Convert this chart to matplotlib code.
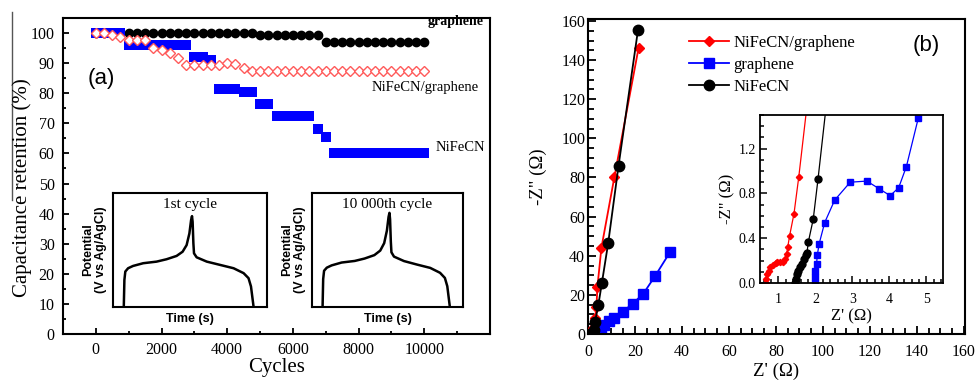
import numpy as np
import matplotlib.pyplot as plt
from matplotlib.ticker import MultipleLocator, FixedLocator
from matplotlib.lines import Line2D

plt.rcParams['font.family'] = ['Liberation Serif', 'DejaVu Serif']

# (a) cycling stability
cycles = np.arange(0, 10001, 250)
graphene_ret = [100] * 20 + [99.3] * 8 + [97] * 13
nifecn_ret = ([100] * 4 + [96] * 8 + [92, 92, 91] + [81.5] * 3 + [80.5] * 2
              + [76.5] * 2 + [72.5] * 5 + [68, 65.5] + [60] * 12)
composite_ret = ([100, 100, 99.5, 98.8, 97.6, 97.6, 97.6, 95, 94.5, 93.4, 91.7,
                  89.5, 89.5, 89.5, 89.5, 89.5, 90, 89.8, 88.3] + [87.5] * 22)

# (a) inset charge/discharge curves (normalised time, potential)
gcd_t = [0.070, 0.074, 0.080, 0.098, 0.130, 0.196, 0.283, 0.348, 0.413, 0.452, 0.478,
         0.496, 0.507, 0.513, 0.517, 0.522, 0.526, 0.543, 0.609, 0.696, 0.783, 0.848,
         0.880, 0.896, 0.913]
gcd_first = [0.0, 0.238, 0.311, 0.340, 0.360, 0.384, 0.398, 0.419, 0.448, 0.485, 0.543,
             0.645, 0.762, 0.797, 0.747, 0.558, 0.471, 0.436, 0.398, 0.369, 0.340, 0.297,
             0.253, 0.180, 0.0]
gcd_last = [0.0, 0.245, 0.318, 0.345, 0.365, 0.390, 0.404, 0.425, 0.455, 0.495, 0.560,
            0.670, 0.790, 0.826, 0.770, 0.575, 0.480, 0.442, 0.403, 0.372, 0.343, 0.300,
            0.255, 0.182, 0.0]

# (b) Nyquist plots
comp_x = [0.65, 0.67, 0.70, 0.74, 0.78, 0.85, 0.92, 0.97, 1.05, 1.12, 1.18, 1.22, 1.25,
          1.30, 1.42, 1.55, 2.3, 3.0, 3.6, 4.0, 5.7, 11.2, 21.5]
comp_y = [0.0, 0.04, 0.08, 0.11, 0.14, 0.16, 0.18, 0.19, 0.19, 0.19, 0.21, 0.26, 0.32,
          0.42, 0.62, 0.95, 3.1, 8, 14, 24, 44, 80, 146]
graph_x = [1.98, 1.98, 2.0, 2.03, 2.05, 2.1, 2.25, 2.52, 2.94, 3.39, 3.73, 4.02, 4.25,
           4.46, 4.78, 5.5, 7.0, 8.8, 11.0, 14.8, 19.0, 23.5, 28.5, 35.0]
graph_y = [0.0, 0.05, 0.11, 0.17, 0.25, 0.35, 0.54, 0.74, 0.90, 0.91, 0.84, 0.78, 0.85,
           1.04, 1.47, 2.0, 4.5, 6.5, 8.3, 11.4, 15.5, 20.5, 29.5, 42]
nife_x = [1.45, 1.47, 1.49, 1.54, 1.58, 1.63, 1.69, 1.74, 1.77, 1.81, 1.94, 2.07, 2.5,
          3.0, 4.4, 5.9, 8.6, 13.0, 21.3]
nife_y = [0.0, 0.04, 0.08, 0.11, 0.14, 0.17, 0.21, 0.25, 0.27, 0.37, 0.57, 0.93, 2.2,
          6.3, 14.8, 26, 46.5, 86, 155.5]

W, H = 980, 387
fig = plt.figure(figsize=(W / 100, H / 100), dpi=100)


def px_rect(x0, y0, x1, y1):
    return [x0 / W, 1 - y1 / H, (x1 - x0) / W, (y1 - y0) / H]


# ---- panel (a)
ax1 = fig.add_axes(px_rect(63, 18, 490, 334))
ax1.plot(cycles, graphene_ret, 'o', color='black', ms=6, zorder=2)
ax1.plot(cycles, nifecn_ret, 's', color='blue', ms=6.5, mew=0, zorder=3)
ax1.plot(cycles, composite_ret, 'D', mfc='white', mec='#ff5a5a', mew=1, ms=5.5, zorder=4)
ax1.set_xlim(-1000, 12000)
ax1.set_ylim(0, 105)
ax1.xaxis.set_major_locator(FixedLocator(range(0, 10001, 2000)))
ax1.xaxis.set_minor_locator(FixedLocator(range(1000, 12000, 2000)))
ax1.yaxis.set_major_locator(FixedLocator(range(0, 101, 10)))
ax1.yaxis.set_minor_locator(FixedLocator(range(5, 105, 10)))
ax1.tick_params(direction='in', length=4, width=1.3, labelsize=11.5, pad=6)
ax1.tick_params(which='minor', direction='in', length=2.5, width=1.3)
for s in ax1.spines.values():
    s.set_linewidth(1.5)
ax1.set_xlabel('Cycles', fontsize=15)
ax1.xaxis.set_label_coords(0.5, -0.075)
fig.text(22 / W, 1 - 188 / H, 'Capacitance retention (%)', rotation=90,
         fontsize=15, ha='center', va='center')
ax1.text(10100, 104, 'graphene', fontsize=10, fontweight='bold', va='center')
ax1.text(8400, 82, 'NiFeCN/graphene', fontsize=10.5, va='center')
ax1.text(10350, 62, 'NiFeCN', fontsize=10.5, va='center')
ax1.text(-250, 85, '(a)', family='Liberation Sans', fontsize=16, va='center')

# insets of (a)
for rect, title, volts in [((113, 193, 267, 307), '1st cycle', gcd_first),
                           ((312, 193, 463, 307), '10 000th cycle', gcd_last)]:
    axi = fig.add_axes(px_rect(*rect))
    axi.plot(gcd_t, volts, color='black', lw=1.8)
    axi.set_xlim(0, 1)
    axi.set_ylim(0, 1)
    axi.set_xticks([])
    axi.set_yticks([])
    for s in axi.spines.values():
        s.set_linewidth(1.5)
    axi.text(0.5, 0.9, title, transform=axi.transAxes, ha='center', va='center', fontsize=11)
    axi.set_xlabel('Time (s)', family='Liberation Sans', fontweight='bold', fontsize=9, labelpad=4)
    axi.set_ylabel('Potential\n(V vs Ag/AgCl)', family='Liberation Sans', fontweight='bold',
                   fontsize=9, labelpad=4, linespacing=1.1)

# ---- panel (b)
ax2 = fig.add_axes(px_rect(588, 19, 965, 334))
ax2.plot(comp_x, comp_y, '-D', color='red', ms=5, lw=1.3, label='NiFeCN/graphene', zorder=3)
ax2.plot(graph_x, graph_y, '-s', color='blue', ms=6.5, lw=1.3, label='graphene', zorder=2)
ax2.plot(nife_x, nife_y, '-o', color='black', ms=7.5, lw=1.3, label='NiFeCN', zorder=4)
ax2.set_xlim(0, 160.5)
ax2.set_ylim(0, 161)
ax2.xaxis.set_major_locator(MultipleLocator(20))
ax2.xaxis.set_minor_locator(MultipleLocator(5))
ax2.yaxis.set_major_locator(MultipleLocator(20))
ax2.yaxis.set_minor_locator(MultipleLocator(5))
ax2.tick_params(direction='in', length=6, width=1.3, labelsize=11.5)
ax2.tick_params(axis='y', pad=2)
ax2.tick_params(axis='x', pad=7)
ax2.tick_params(which='minor', direction='in', length=4, width=1.3)
for s in ax2.spines.values():
    s.set_linewidth(1.5)
ax2.set_xlabel("Z' (Ω)", fontsize=13.5, labelpad=2)
ax2.set_ylabel('-Z" (Ω)', fontsize=13.5, labelpad=10)
ax2.legend(loc='upper left', bbox_to_anchor=(0.245, 0.975), frameon=False, fontsize=12,
           borderpad=0, handlelength=2.4, handletextpad=0.3, labelspacing=0.35)
ax2.text(0.86, 0.917, '(b)', transform=ax2.transAxes, family='Liberation Sans',
         fontsize=16, va='center')

# inset of (b)
ax3 = fig.add_axes(px_rect(760, 115, 943, 283))
ax3.plot(comp_x, comp_y, '-D', color='red', ms=3.2, lw=0.9)
ax3.plot(graph_x, graph_y, '-s', color='blue', ms=4.3, lw=0.9)
ax3.plot(nife_x, nife_y, '-o', color='black', ms=5, lw=0.9)
ax3.set_xlim(0.5, 5.45)
ax3.set_ylim(0, 1.5)
ax3.xaxis.set_major_locator(MultipleLocator(1))
ax3.xaxis.set_minor_locator(MultipleLocator(0.2))
ax3.yaxis.set_major_locator(FixedLocator([0.0, 0.4, 0.8, 1.2]))
ax3.yaxis.set_minor_locator(MultipleLocator(0.1))
ax3.yaxis.set_major_formatter(plt.FormatStrFormatter('%.1f'))
ax3.tick_params(direction='in', length=5, width=1.1, labelsize=10)
ax3.tick_params(axis='y', pad=3)
ax3.tick_params(axis='x', pad=7)
ax3.tick_params(which='minor', direction='in', length=3, width=1.1)
for s in ax3.spines.values():
    s.set_linewidth(1.3)
ax3.set_xlabel("Z' (Ω)", fontsize=12, labelpad=2)
ax3.set_ylabel('-Z" (Ω)', fontsize=12, labelpad=2)

# stray frame line at the left edge of the original
fig.add_artist(Line2D([12 / W, 12 / W], [1 - 12 / H, 1 - 200 / H], color='#555555', lw=1))

fig.savefig('out.png', dpi=100)
